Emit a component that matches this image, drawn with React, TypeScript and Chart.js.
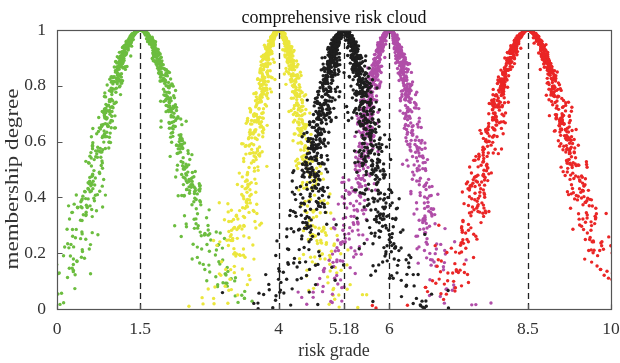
import React, { useEffect, useRef } from "react";
import { Chart, registerables } from "chart.js";

Chart.register(...registerables);

// Cloud model parameters (expectation, entropy, hyper-entropy)
const cloudNames = ["grade I", "grade II", "comprehensive", "grade III", "grade IV"];
const cloudEx = [1.5, 4, 5.18, 6, 8.5];
const cloudEn = [0.7, 0.45, 0.47, 0.45, 0.7];
const cloudHe = [0.1, 0.1, 0.14, 0.1, 0.1];
const cloudDrops = [1000, 1000, 1400, 1000, 1000];
const cloudColors = ["#6cbd3f", "#ebe63c", "#1e1e1e", "#b04ea8", "#ea2626"];
// drawing priority (first drawn on top)
const drawOrder = [2, 4, 3, 1, 0];

const xTickValues = [0, 1.5, 4, 5.18, 6, 8.5, 10];
const yTickValues = [0, 0.2, 0.4, 0.6, 0.8, 1];
const yTickLabels = ["0", "0.2", "0.4", "0.6", "0.8", "1"];

const titleText = "comprehensive risk cloud";
const xTitle = "risk grade";
const yTitle = "membership degree";

const FONT = '"Liberation Serif", "Times New Roman", serif';

// forward normal cloud generator (seeded, deterministic)
function seeded(seed: number) {
  let a = seed >>> 0;
  return () => {
    a = (a + 0x6d2b79f5) >>> 0;
    let t = a;
    t = Math.imul(t ^ (t >>> 15), t | 1);
    t ^= t + Math.imul(t ^ (t >>> 7), t | 61);
    return ((t ^ (t >>> 14)) >>> 0) / 4294967296;
  };
}
function gauss(rnd: () => number) {
  let u = 0;
  while (u === 0) u = rnd();
  const v = rnd();
  return Math.sqrt(-2 * Math.log(u)) * Math.cos(2 * Math.PI * v);
}
function cloudDropsFor(i: number) {
  const rnd = seeded(1234 + i * 977);
  const pts: { x: number; y: number }[] = [];
  for (let k = 0; k < cloudDrops[i]; k++) {
    const enp = cloudEn[i] + cloudHe[i] * gauss(rnd);
    const x = cloudEx[i] + Math.abs(enp) * gauss(rnd);
    const y = Math.exp(-((x - cloudEx[i]) ** 2) / (2 * enp * enp));
    pts.push({ x, y });
  }
  return pts;
}

const framePlugin = {
  id: "frame",
  afterDatasetsDraw(chart: any) {
    const { ctx, chartArea } = chart;
    const xs = chart.scales.x;
    const ys = chart.scales.y;
    ctx.save();
    // dashed expectation lines
    ctx.strokeStyle = "#222";
    ctx.lineWidth = 1.3;
    ctx.setLineDash([6, 4]);
    for (const ex of cloudEx) {
      const px = Math.round(xs.getPixelForValue(ex)) + 0.5;
      ctx.beginPath();
      ctx.moveTo(px, ys.getPixelForValue(0));
      ctx.lineTo(px, ys.getPixelForValue(1));
      ctx.stroke();
    }
    ctx.setLineDash([]);
    // box
    ctx.strokeStyle = "#555";
    ctx.lineWidth = 1.2;
    const l = Math.round(chartArea.left) + 0.5;
    const r = Math.round(chartArea.right) + 0.5;
    const t = Math.round(chartArea.top) + 0.5;
    const b = Math.round(chartArea.bottom) + 0.5;
    ctx.strokeRect(l, t, r - l, b - t);
    // inward ticks
    ctx.beginPath();
    for (const v of xTickValues) {
      const px = Math.round(xs.getPixelForValue(v)) + 0.5;
      ctx.moveTo(px, b);
      ctx.lineTo(px, b - 5);
    }
    for (const v of yTickValues) {
      const py = Math.round(ys.getPixelForValue(v)) + 0.5;
      ctx.moveTo(l, py);
      ctx.lineTo(l + 5, py);
    }
    ctx.stroke();
    // title
    ctx.fillStyle = "#111";
    ctx.font = `18px ${FONT}`;
    ctx.textAlign = "center";
    ctx.textBaseline = "alphabetic";
    ctx.fillText(titleText, (chartArea.left + chartArea.right) / 2, 23);
    // y axis title (slightly stretched along its length as in the reference)
    ctx.fillStyle = "#333";
    ctx.font = `19px ${FONT}`;
    const w = ctx.measureText(yTitle).width;
    ctx.translate(13.5, 179);
    ctx.rotate(-Math.PI / 2);
    ctx.scale(181 / w, 1);
    ctx.textBaseline = "middle";
    ctx.fillText(yTitle, 0, 0);
    ctx.restore();
  },
};

export default function App() {
  const ref = useRef<HTMLCanvasElement | null>(null);
  useEffect(() => {
    if (!ref.current) return;
    const datasets = drawOrder.map((i) => ({
      label: cloudNames[i],
      data: cloudDropsFor(i),
      backgroundColor: cloudColors[i],
      borderWidth: 0,
      pointRadius: 1.7,
      pointHoverRadius: 1.7,
    }));
    const chart = new Chart(ref.current, {
      type: "scatter",
      data: { datasets },
      options: {
        animation: false,
        responsive: false,
        events: [],
        layout: { padding: { top: 30, right: 9, left: 0, bottom: 0 } },
        plugins: { legend: { display: false }, tooltip: { enabled: false }, title: { display: false } },
        scales: {
          x: {
            type: "linear",
            min: 0,
            max: 10,
            grid: { display: false },
            border: { display: false },
            afterBuildTicks: (s: any) => {
              s.ticks = xTickValues.map((v) => ({ value: v }));
            },
            afterFit: (s: any) => {
              s.height = 54;
              s.paddingRight = 0;
              s.paddingLeft = 0;
            },
            ticks: {
              autoSkip: false,
              maxRotation: 0,
              padding: 2,
              color: "#333",
              font: { family: FONT, size: 17.5 },
              callback: (v: any) => String(v),
            },
            title: {
              display: true,
              text: xTitle,
              color: "#333",
              font: { family: FONT, size: 18 },
              padding: { top: 0, bottom: 1 },
            },
          },
          y: {
            type: "linear",
            min: 0,
            max: 1,
            grid: { display: false },
            border: { display: false },
            afterBuildTicks: (s: any) => {
              s.ticks = yTickValues.map((v) => ({ value: v }));
            },
            afterFit: (s: any) => {
              s.width = 57;
            },
            ticks: {
              padding: 3,
              color: "#333",
              font: { family: FONT, size: 17.5 },
              callback: (v: any) => yTickLabels[yTickValues.indexOf(Number(v))] ?? String(v),
            },
            title: { display: false },
          },
        },
      },
      plugins: [framePlugin],
    });
    return () => chart.destroy();
  }, []);
  return (
    <div style={{ position: "fixed", left: 0, top: 0, width: 620, height: 363, background: "#fff" }}>
      <canvas ref={ref} width={620} height={363} style={{ width: 620, height: 363 }} />
    </div>
  );
}
